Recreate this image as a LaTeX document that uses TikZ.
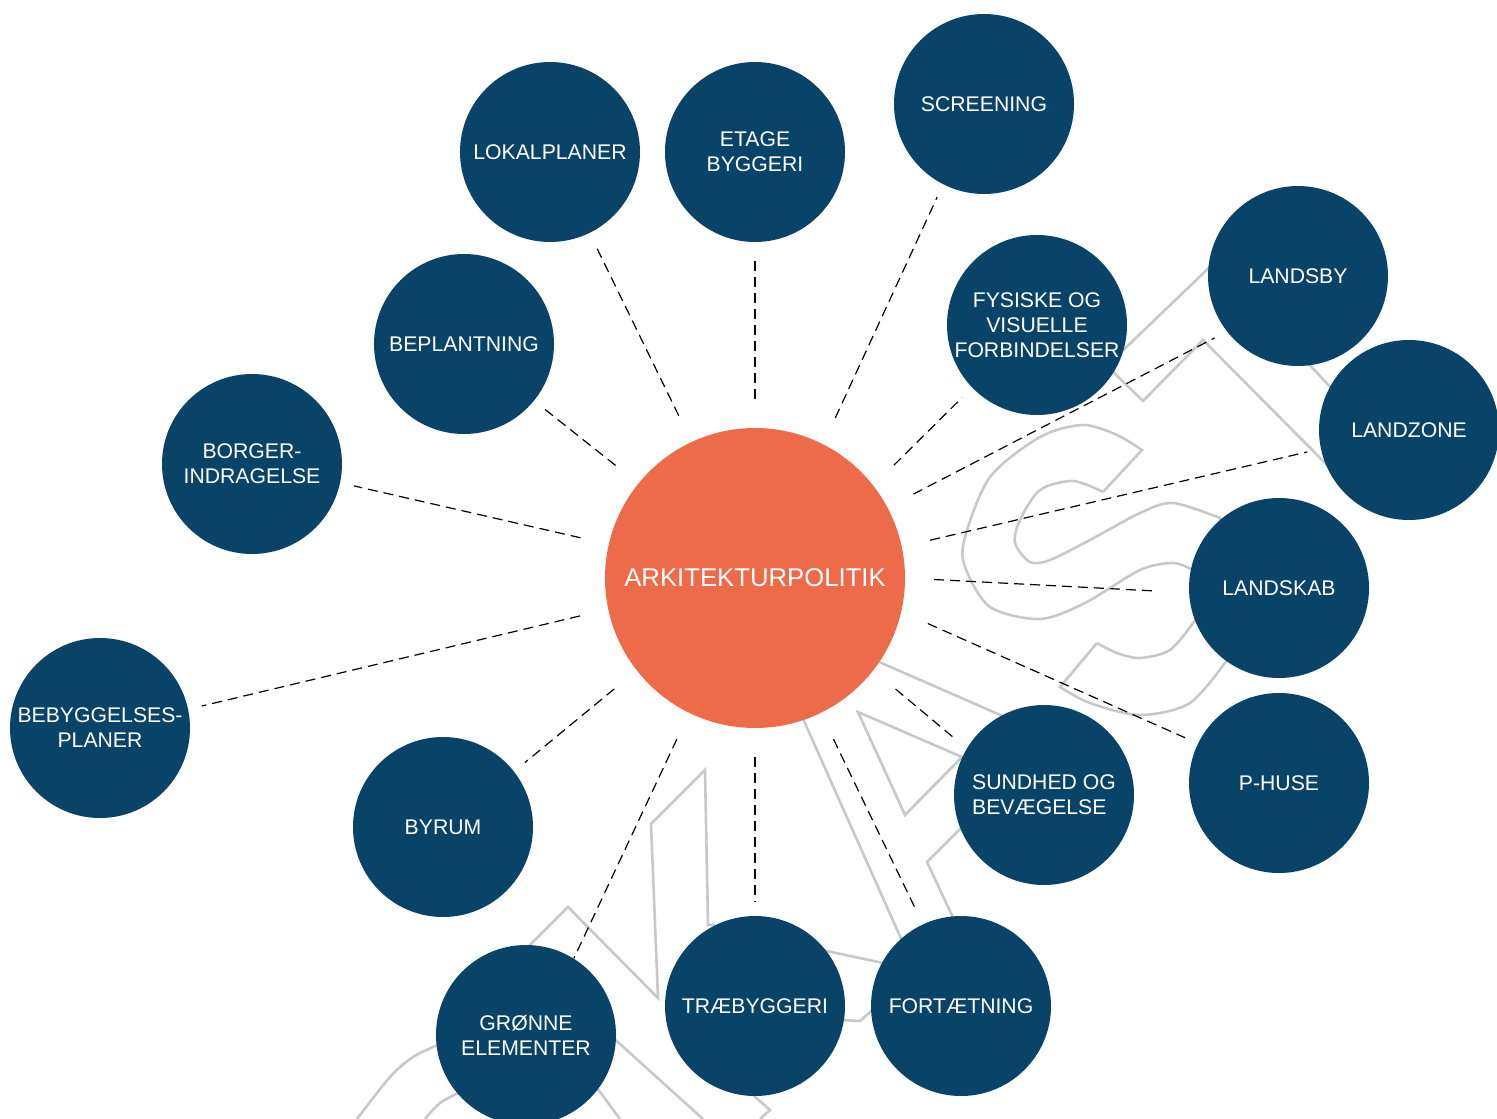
\documentclass[tikz,border=0pt]{standalone}
\usepackage{fontspec}
\setmainfont{Liberation Sans}
\usetikzlibrary{backgrounds}
\definecolor{hubcol}{RGB}{238,107,74}
\definecolor{topiccol}{RGB}{9,67,104}
\definecolor{wmgray}{RGB}{200,200,200}
\tikzset{
  topic/.style={circle, fill=topiccol, text=white, minimum size=180pt, inner sep=0pt,
    align=center, font=\fontsize{21.2}{25}\selectfont},
  hubnode/.style={circle, fill=hubcol, text=white, minimum size=300pt, inner sep=0pt,
    font=\fontsize{25.7}{30}\selectfont},
  link/.style={dash pattern=on 10pt off 6pt, line width=1.2pt, shorten <=29pt, shorten >=14pt},
  wm/.style={draw=wmgray, line width=2.6pt, line join=miter}
}
\begin{document}
\begin{tikzpicture}[x=1pt,y=-1pt]
      \useasboundingbox (0,0) rectangle (1497,1119);
      \node[hubnode] (hub) at (755,578) {ARKITEKTURPOLITIK};
      \node[topic] (lokal) at (550,152) {LOKALPLANER};
      \node[topic] (etage) at (755,152) {ETAGE\\BYGGERI};
      \node[topic] (screen) at (984,104) {SCREENING};
      \node[topic] (fysisk) at (1037,325) {FYSISKE OG\\VISUELLE\\FORBINDELSER};
      \node[topic] (landsby) at (1298,276) {LANDSBY};
      \node[topic] (landzone) at (1409,430) {LANDZONE};
      \node[topic] (landskab) at (1279,588) {LANDSKAB};
      \node[topic] (phuse) at (1279,783) {P-HUSE};
      \node[topic, align=left] (sundhed) at (1044,795) {SUNDHED OG\\BEV\AE GELSE};
      \node[topic] (fortaet) at (961,1006) {FORT\AE TNING};
      \node[topic] (trae) at (755,1006) {TR\AE BYGGERI};
      \node[topic] (groenne) at (526,1035) {GR\O NNE\\ELEMENTER};
      \node[topic] (byrum) at (443,827) {BYRUM};
      \node[topic] (bebyg) at (100,728) {BEBYGGELSES-\\PLANER};
      \node[topic] (borger) at (252,464) {BORGER-\\INDRAGELSE};
      \node[topic] (beplant) at (464,344) {BEPLANTNING};
      \begin{scope}[on background layer]
        \draw[wm] (1115,358) -- (1215,262);
        \draw[wm] (1108,367) -- (1143,401) -- (1203,340) -- (1335,473);
        \draw[wm] (1305,360) -- (1335,392);
        \draw[wm] plot[smooth] coordinates {(1193,570) (1173,563) (1140,570) (1085,603)
          (1040,619) (990,607) (965,567) (965,537) (990,477) (1040,437) (1083,425)
          (1117,435) (1142,450)}
          -- (1103,492)
          plot[smooth] coordinates {(1103,492) (1073,481) (1040,490) (1020,520)
          (1015,543) (1030,562) (1050,560) (1090,540) (1140,513) (1173,503) (1220,518)}
          -- (1255,590) -- (1227,660)
          plot[smooth] coordinates {(1227,660) (1190,703) (1140,715) (1090,703) (1060,687)}
          -- (1097,643)
          plot[smooth] coordinates {(1097,643) (1117,653) (1140,658) (1170,650) (1193,623)}
          -- (1215,595) -- (1193,570);
        \draw[wm] (870,658) -- (1005,717);
        \draw[wm] (800,712) -- (903,943);
        \draw[wm] (858,712) -- (962,757) -- (905,815) -- cycle;
        \draw[wm] (965,824) -- (927,862) -- (955,922);
        \draw[wm] (822,950) -- (883,963);
        \draw[wm] (840,1020) -- (860,1021) -- (878,1005);
        \draw[wm] (528,947) -- (568,907) -- (658,998) -- (651,824) -- (705,770) -- (708,925) -- (715,925);
        \draw[wm] (610,1035) -- (703,1119);
        \draw[wm] (597,1088) -- (620,1119);
        \draw[wm] (752,1094) -- (770,1110) -- (760,1119);
        \draw[wm] plot[smooth] coordinates {(440,1044) (413,1057) (390,1077) (357,1119)};
        \draw[wm] plot[smooth] coordinates {(460,1092) (440,1103) (425,1119)};
      \end{scope}
      \begin{scope}[link]
        \draw (hub.115.4) to (lokal.296.1);
        \draw (hub.90) to (etage.270);
        \draw (hub.63.7) to (screen.243.9);
        \draw (hub.38.4) to (fysisk.224.2);
        \draw (hub.28.6) to (landsby.218.5);
        \draw (hub.12.25) to (landzone.192.7);
        \draw[shorten >=36pt] (hub.0) to (landskab.183.6);
        \draw (hub.-13.5) to (phuse.154);
        \draw (hub.-38.7) to (sundhed.149);
        \draw (hub.-64) to (fortaet.115.6);
        \draw (hub.-90) to (trae.90);
        \draw[shorten >=0pt] (hub.244.6) to (groenne.58.8);
        \draw (hub.218.5) to (byrum.38);
        \draw (hub.192.9) to (bebyg.12.7);
        \draw (hub.167.75) to (borger.-12.7);
        \draw (hub.141.8) to (beplant.-39.2);
      \end{scope}
    \end{tikzpicture}
\end{document}
